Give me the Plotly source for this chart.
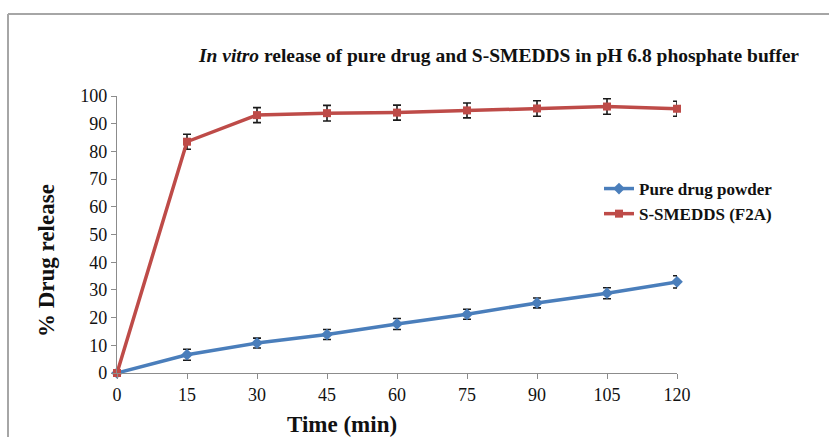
import plotly.graph_objects as go

time_min = [0, 15, 30, 45, 60, 75, 90, 105, 120]
pure_drug = [0, 6.6, 10.8, 13.9, 17.7, 21.2, 25.3, 28.8, 32.9]
pure_err = [0, 2.0, 1.8, 1.8, 2.0, 1.8, 1.8, 2.0, 2.2]
smedds = [0, 83.5, 93.1, 93.8, 94.0, 94.8, 95.5, 96.2, 95.4]
smedds_err = [0, 2.7, 2.7, 2.8, 2.7, 2.7, 2.8, 2.8, 2.7]
x_ticks = [0, 15, 30, 45, 60, 75, 90, 105, 120]
y_ticks = list(range(0, 101, 10))

W, H = 829, 437
L, R, T, B = 117, 152, 96, 64
pw, ph = W - L - R, H - T - B

def px_x(p):
    return (p - L) / pw

def px_y(p):
    return (H - B - p) / ph

FONT = "Liberation Serif, Times New Roman, serif"
INK = "#111111"

fig = go.Figure()
fig.add_trace(go.Scatter(
    x=time_min, y=pure_drug, name="<b>Pure drug powder</b>", mode="lines+markers",
    line=dict(color="#4A7EBB", width=3.5),
    marker=dict(symbol="diamond", size=9, color="#4A7EBB"),
    error_y=dict(type="data", array=pure_err, color="#1a1a1a", thickness=1.6, width=4),
    cliponaxis=False,
))
fig.add_trace(go.Scatter(
    x=time_min, y=smedds, name="<b>S-SMEDDS (F2A)</b>", mode="lines+markers",
    line=dict(color="#BE4B48", width=3.5),
    marker=dict(symbol="square", size=8, color="#BE4B48"),
    error_y=dict(type="data", array=smedds_err, color="#1a1a1a", thickness=1.6, width=4),
    cliponaxis=False,
))

fig.update_layout(
    width=W, height=H,
    margin=dict(l=L, r=R, t=T, b=B, autoexpand=False),
    paper_bgcolor="white", plot_bgcolor="white",
    font=dict(family=FONT, color=INK),
    title=dict(
        text="<b><i>In vitro</i> release of pure drug and S-SMEDDS in pH 6.8 phosphate buffer</b>",
        x=499 / W, xanchor="center", y=1 - 55 / H, yanchor="middle",
        font=dict(family=FONT, size=19.5, color=INK),
    ),
    xaxis=dict(
        range=[0, 120], tickvals=x_ticks, ticktext=[str(v) for v in x_ticks],
        showgrid=False, zeroline=False, showline=True, linecolor="#8c8c8c", linewidth=1.2,
        ticks="outside", ticklen=5, tickcolor="#8c8c8c",
        tickfont=dict(family=FONT, size=18, color=INK),
    ),
    yaxis=dict(
        range=[0, 100], tickvals=y_ticks,
        showgrid=False, zeroline=False, showline=True, linecolor="#8c8c8c", linewidth=1.2,
        ticks="outside", ticklen=5, tickcolor="#8c8c8c",
        tickfont=dict(family=FONT, size=18, color=INK),
    ),
    legend=dict(
        x=px_x(599), y=px_y(171), xanchor="left", yanchor="top",
        font=dict(family=FONT, size=17, color=INK),
        bgcolor="rgba(0,0,0,0)", tracegroupgap=2,
    ),
    showlegend=True,
    annotations=[
        dict(text="<b>Time (min)</b>", xref="paper", yref="paper",
             x=px_x(342), y=px_y(424), xanchor="center", yanchor="middle",
             showarrow=False, font=dict(family=FONT, size=23, color=INK)),
        dict(text="<b>% Drug release</b>", xref="paper", yref="paper",
             x=px_x(46), y=px_y(261), xanchor="center", yanchor="middle", textangle=-90,
             showarrow=False, font=dict(family=FONT, size=23, color=INK)),
    ],
    shapes=[
        dict(type="line", xref="paper", yref="paper", x0=px_x(8), x1=px_x(829), y0=px_y(14), y1=px_y(14),
             line=dict(color="#a6a6a6", width=2)),
        dict(type="line", xref="paper", yref="paper", x0=px_x(8), x1=px_x(8), y0=px_y(14), y1=px_y(437),
             line=dict(color="#a6a6a6", width=2)),
    ],
)

fig.write_html("out.html", config={"displayModeBar": False},
               post_script="document.body.style.margin='0';document.body.style.padding='0';")
